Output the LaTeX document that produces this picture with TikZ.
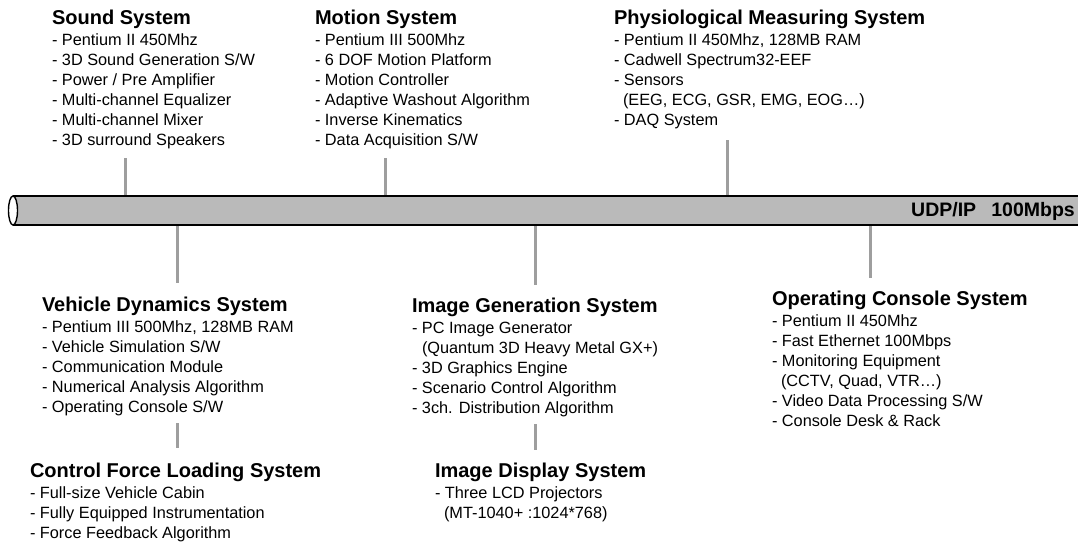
\documentclass[tikz,border=0pt]{standalone}
\usepackage{fontspec}
\setmainfont{Liberation Sans}
\newcommand\ttlfont{\fontsize{20}{24}\selectfont\bfseries}
\newcommand\itmfont{\fontsize{16.3}{20}\selectfont}
\newcommand\ind{\hspace*{9pt}}
\tikzset{
  sys/.style={anchor=north west, inner sep=0pt, outer sep=0pt, align=left, font=\itmfont},
  link/.style={draw=black!38, line width=3pt},
  tubeedge/.style={draw=black, line width=2pt},
}
\begin{document}
\begin{tikzpicture}[x=1pt,y=-1pt]
\useasboundingbox (0,0) rectangle (1078,542);

% text blocks
\node[sys] (snd) at (52,10) {{\ttlfont Sound System}\\[1pt]
- Pentium II 450Mhz\\
- 3D Sound Generation S/W\\
- Power / Pre Amplifier\\
- Multi-channel Equalizer\\
- Multi-channel Mixer\\
- 3D surround Speakers};

\node[sys] (mot) at (315,10) {{\ttlfont Motion System}\\[1pt]
- Pentium III 500Mhz\\
- 6 DOF Motion Platform\\
- Motion Controller\\
- Adaptive Washout Algorithm\\
- Inverse Kinematics\\
- Data Acquisition S/W};

\node[sys] (phy) at (614,10) {{\ttlfont Physiological Measuring System}\\[1pt]
- Pentium II 450Mhz, 128MB RAM\\
- Cadwell Spectrum32-EEF\\
- Sensors\\
\ind(EEG, ECG, GSR, EMG, EOG…)\\
- DAQ System};

\node[sys] (veh) at (42,297) {{\ttlfont Vehicle Dynamics System}\\[1pt]
- Pentium III 500Mhz, 128MB RAM\\
- Vehicle Simulation S/W\\
- Communication Module\\
- Numerical Analysis Algorithm\\
- Operating Console S/W};

\node[sys] (gen) at (412,298) {{\ttlfont Image Generation System}\\[1pt]
- PC Image Generator\\
\hspace*{10pt}(Quantum 3D Heavy Metal GX+)\\
- 3D Graphics Engine\\
- Scenario Control Algorithm\\
- 3ch. Distribution Algorithm};

\node[sys] (ops) at (772,291) {{\ttlfont Operating Console System}\\[1pt]
- Pentium II 450Mhz\\
- Fast Ethernet 100Mbps\\
- Monitoring Equipment\\
\ind(CCTV, Quad, VTR…)\\
- Video Data Processing S/W\\
- Console Desk \& Rack};

\node[sys] (cfl) at (30,463) {{\ttlfont Control Force Loading System}\\[1pt]
- Full-size Vehicle Cabin\\
- Fully Equipped Instrumentation\\
- Force Feedback Algorithm};

\node[sys] (dsp) at (435,463) {{\ttlfont Image Display System}\\[1pt]
- Three LCD Projectors\\
\ind(MT-1040+ :1024*768)};

% connector end points
\coordinate (sndA) at (125,158); \coordinate (sndB) at (125,196);
\coordinate (motA) at (385,158); \coordinate (motB) at (385,196);
\coordinate (phyA) at (727,140); \coordinate (phyB) at (727,196);
\coordinate (vehA) at (177,225); \coordinate (vehB) at (177,283);
\coordinate (genA) at (535,225); \coordinate (genB) at (535,285);
\coordinate (opsA) at (870,225); \coordinate (opsB) at (870,278);
\coordinate (cflA) at (177,423); \coordinate (cflB) at (177,448);
\coordinate (dspA) at (535,424); \coordinate (dspB) at (535,450);

\draw[link] (sndA) -- (sndB);
\draw[link] (motA) -- (motB);
\draw[link] (phyA) -- (phyB);
\draw[link] (vehA) -- (vehB);
\draw[link] (genA) -- (genB);
\draw[link] (opsA) -- (opsB);
\draw[link] (cflA) -- (cflB);
\draw[link] (dspA) -- (dspB);

% network tube
\fill[black!27] (13,196) rectangle (1078,225);
\draw[tubeedge] (13,196) -- (1078,196);
\draw[tubeedge] (13,225) -- (1078,225);
\draw[line width=1.4pt, fill=white] (13,210.5) ellipse [x radius=4.5, y radius=14.5];
\node[anchor=east, inner sep=0pt, font=\fontsize{19.5}{22}\selectfont\bfseries] (udp) at (1075,211) {UDP/IP\hspace{0.5em} 100Mbps};
\end{tikzpicture}
\end{document}
